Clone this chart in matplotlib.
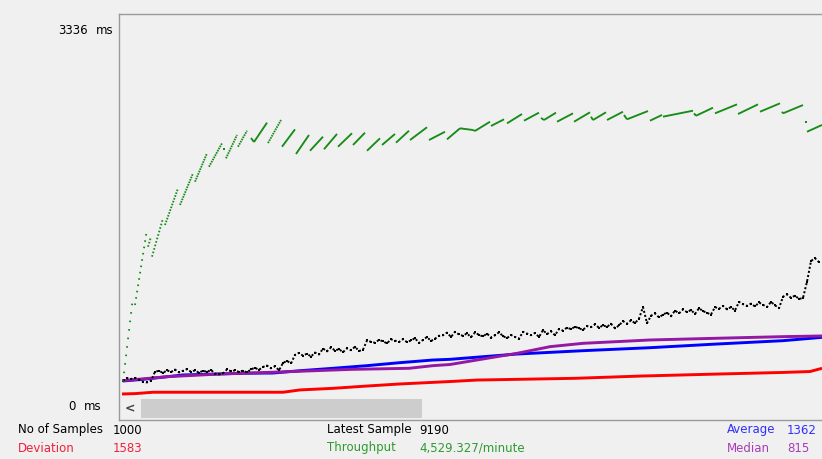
import numpy as np
import matplotlib
matplotlib.use("Agg")
import matplotlib.pyplot as plt
from matplotlib.lines import Line2D
from matplotlib.patches import Rectangle

plt.rcParams["lines.scale_dashes"] = False

W, H = 822, 459
BG = "#f0f0f0"

# ---- data -----------------------------------------------------------------
y_max_ms = 3336

# individual response times (sample index, ms)
data_x = list(range(4, 704, 4))
data_ms = [
    148, 172, 165, 175, 160, 140, 135, 150, 228, 236,
    218, 241, 225, 247, 222, 236, 251, 228, 240, 219,
    238, 226, 244, 212, 205, 214, 248, 232, 240, 226,
    238, 222, 250, 262, 245, 270, 282, 258, 276, 240,
    305, 322, 300, 375, 392, 368, 385, 360, 395, 378,
    430, 405, 440, 412, 425, 398, 432, 415, 445, 408,
    420, 500, 488, 480, 505, 492, 475, 510, 498, 486,
    512, 485, 500, 520, 478, 505, 530, 495, 515, 540,
    545, 568, 530, 575, 552, 540, 562, 528, 570, 548,
    535, 560, 525, 545, 570, 538, 520, 548, 530, 515,
    575, 560, 545, 565, 530, 590, 555, 580, 545, 600,
    585, 612, 598, 620, 605, 592, 625, 615, 640, 610,
    632, 618, 645, 605, 630, 668, 645, 675, 650, 690,
    790, 650, 715, 735, 700, 725, 742, 710, 760, 735,
    770, 745, 765, 730, 780, 755, 740, 725, 790, 775,
    800, 770, 790, 760, 835, 815, 800, 820, 795, 830,
    810, 790, 835, 805, 780, 880, 900, 870, 890, 860,
    870, 1010, 1190, 1215, 1180,
]

# running average
avg_x = [4, 24, 64, 124, 154, 181, 214, 248, 281, 314, 331, 398, 464, 531, 598, 664, 703]
avg_ms = [148, 162, 200, 215, 217, 237, 258, 281, 307, 330, 336, 382, 411, 437, 469, 498, 527]

# running median
med_x = [3, 48, 100, 167, 233, 290, 314, 331, 364, 398, 431, 464, 531, 598, 664, 703]
med_ms = [150, 185, 208, 228, 249, 258, 281, 291, 339, 388, 446, 475, 504, 519, 533, 539]

# standard deviation
dev_x = [3, 16, 34, 164, 181, 214, 248, 281, 331, 358, 456, 523, 598, 664, 691, 703]
dev_ms = [35, 38, 50, 50, 70, 84, 104, 122, 143, 156, 171, 191, 208, 222, 230, 258]

# throughput runs (each sub-list is one run of consecutive samples)
tp_x = [
    [4, 14], [16, 28], [29, 32], [33, 44], [46, 59], [61, 74], [76, 88], [90, 103],
    [105], [107, 118], [119, 128], [132, 135, 148], [149, 162], [163, 176],
    [177, 190], [191, 204], [205, 218], [219, 233], [234, 246], [248, 261],
    [263, 276], [277, 290], [291, 308], [310, 326], [328, 341, 354, 356, 371],
    [372, 385], [388, 403], [405, 420], [422, 425, 437], [438, 454], [455, 471],
    [472, 474, 487], [488, 504], [505, 508, 529], [531, 543], [544, 574],
    [575, 577, 594], [596, 618], [619, 639], [641, 661], [663, 664, 684],
    [687], [688, 703],
]
tp_ms = [
    [142, 880], [808, 1466], [1314, 1401], [1228, 1561], [1503, 1822], [1677, 1952],
    [1879, 2126], [2009, 2213], [2161], [2082, 2285], [2183, 2322],
    [2259, 2224, 2392], [2215, 2415], [2183, 2334], [2120, 2285], [2148, 2270],
    [2161, 2294], [2183, 2300], [2198, 2305], [2148, 2256], [2198, 2294],
    [2218, 2322], [2241, 2352], [2241, 2313], [2247, 2343, 2328, 2320, 2400],
    [2363, 2421], [2386, 2467], [2409, 2479], [2433, 2415, 2479], [2400, 2473],
    [2400, 2482], [2444, 2415, 2482], [2415, 2487], [2459, 2421, 2493],
    [2409, 2459], [2444, 2496], [2473, 2452, 2522], [2473, 2551], [2467, 2551],
    [2487, 2560], [2487, 2473, 2545], [2400], [2313, 2372],
]

# summary panel
summary_left = [("No of Samples", "1000", "#000000"), ("Deviation", "1583", "#f0203a")]
summary_mid = [("Latest Sample", "9190", "#000000"), ("Throughput", "4,529.327/minute", "#2f9a2f")]
summary_right = [("Average", "1362", "#3030ff"), ("Median", "815", "#a83cb8")]

# ---- figure ---------------------------------------------------------------
fig = plt.figure(figsize=(W / 100, H / 100), dpi=100, facecolor=BG)


def fx(px):
    return px / W


def fy(py):
    return 1 - py / H


plot_l, plot_t, plot_b = 119, 14, 398
ax = fig.add_axes([fx(plot_l), fy(plot_b), 1 - fx(plot_l), fy(plot_t) - fy(plot_b)])
ax.set_facecolor(BG)
ax.set_xlim(0, W - plot_l)
ax.set_ylim(0, y_max_ms)
ax.set_xticks([])
ax.set_yticks([])
for s in ax.spines.values():
    s.set_visible(False)

px_per_pt = 100 / 72.0

# deviation, average, median
ax.plot(dev_x, dev_ms, color="#ff0000", lw=2.1, solid_capstyle="butt", zorder=2)
ax.plot(avg_x, avg_ms, color="#0000ff", lw=2.1, solid_capstyle="butt", zorder=3)
ax.plot(med_x, med_ms, color="#9418a4", lw=2.1, solid_capstyle="butt", zorder=4)

# samples
ax.plot(data_x, data_ms, ls=(0, (1.5, 1.5)), lw=1.4, color="#000000", zorder=5)
ax.plot(data_x, data_ms, ls="none", marker="s", ms=1.9, mew=0, color="#000000", zorder=5)

# throughput: one dot per sample; steep runs show separated dots
ms_per_px = y_max_ms / (plot_b - plot_t)
tp_color = "#178c17"
for xs, ys in zip(tp_x, tp_ms):
    if len(xs) == 1:
        ax.plot(xs, ys, ls="none", marker="s", ms=1.5, mew=0, color=tp_color, zorder=6)
        continue
    for i in range(len(xs) - 1):
        dx = xs[i + 1] - xs[i]
        dy_px = abs(ys[i + 1] - ys[i]) / ms_per_px
        step = np.hypot(1.0, dy_px / max(dx, 1))
        if step > 2.0:
            on = 1.6
            style = (0, (on / px_per_pt, max(step - on, 0.9) / px_per_pt))
        else:
            style = "-"
        ax.plot(xs[i:i + 2], ys[i:i + 2], ls=style, lw=1.35, color=tp_color,
                solid_capstyle="butt", dash_capstyle="butt", zorder=6)

# ---- frame and scroll bar -------------------------------------------------
frame_c = "#9a9a9a"
fig.add_artist(Line2D([fx(plot_l), 1], [fy(plot_t), fy(plot_t)], color=frame_c, lw=1.0))
fig.add_artist(Line2D([fx(plot_l), fx(plot_l)], [fy(plot_t), fy(420)], color=frame_c, lw=1.0))
fig.add_artist(Line2D([fx(plot_l), 1], [fy(420), fy(420)], color=frame_c, lw=1.0))
fig.add_artist(Rectangle((fx(141), fy(418)), fx(422) - fx(141), fy(399) - fy(418),
                         transform=fig.transFigure, color="#cdcdcd", lw=0))
fig.text(fx(130), fy(409), "<", ha="center", va="center", fontsize=9,
         fontweight="bold", color="#404040")

# ---- axis labels ----------------------------------------------------------
fs = 8.5
fig.text(fx(88), fy(30), f"{y_max_ms}", ha="right", va="center", fontsize=fs, color="#000000")
fig.text(fx(96), fy(30), "ms", ha="left", va="center", fontsize=fs, color="#000000")
fig.text(fx(76), fy(406), "0", ha="right", va="center", fontsize=fs, color="#000000")
fig.text(fx(84), fy(406), "ms", ha="left", va="center", fontsize=fs, color="#000000")

# ---- summary --------------------------------------------------------------
rows = [430, 448]
for cols, (lx, vx) in ((summary_left, (18, 113)), (summary_mid, (327, 419)),
                       (summary_right, (727, 787))):
    for (label, value, c), ry in zip(cols, rows):
        fig.text(fx(lx), fy(ry), label, ha="left", va="center", fontsize=fs, color=c)
        fig.text(fx(vx), fy(ry), value, ha="left", va="center", fontsize=fs, color=c)

fig.savefig("out.png", dpi=100, facecolor=BG)
